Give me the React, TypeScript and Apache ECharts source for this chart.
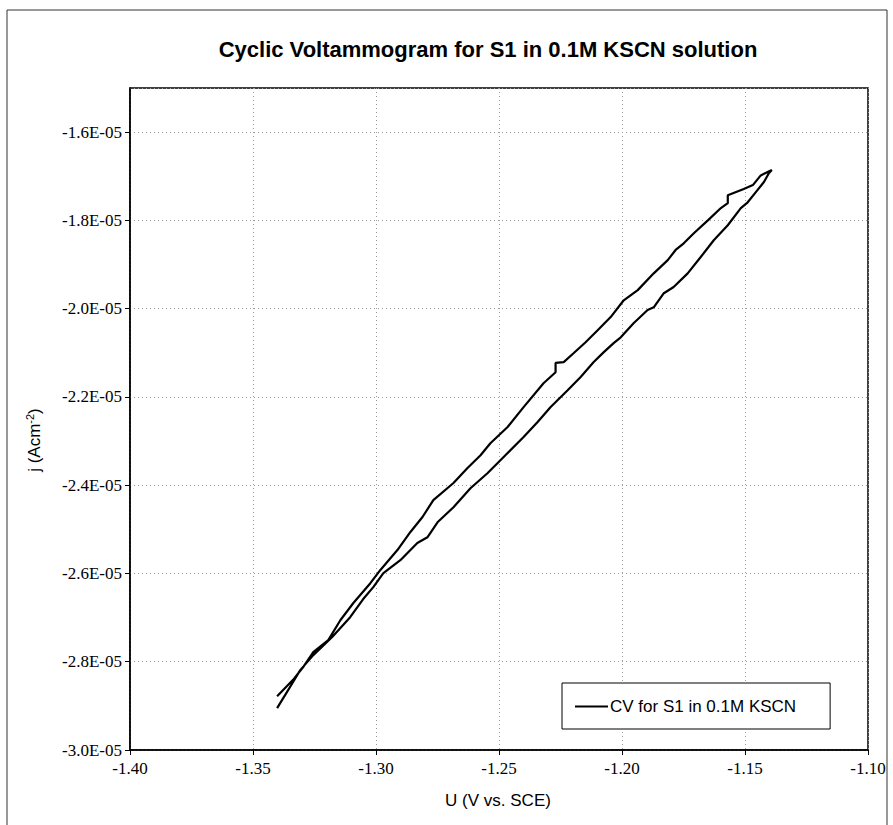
import React, { useEffect, useRef } from "react";
import * as echarts from "echarts";

// Potential U (V vs. SCE) and current density j (in units of 1E-05 A/cm^2)
const forwardU = [-1.3402, -1.3337, -1.3296, -1.3255, -1.3194, -1.3145, -1.3092, -1.3023, -1.2982, -1.2913, -1.286, -1.2811, -1.2767, -1.2685, -1.2628, -1.2575, -1.2535, -1.2465, -1.24, -1.2319, -1.227, -1.227, -1.2237, -1.2197, -1.2148, -1.2099, -1.2046, -1.1993, -1.1936, -1.1871, -1.1814, -1.1782, -1.1749, -1.1708, -1.1651, -1.1598, -1.157, -1.157, -1.1505, -1.1468, -1.1436, -1.1391];
const forwardJ = [-2.878, -2.841, -2.812, -2.778, -2.751, -2.706, -2.667, -2.622, -2.592, -2.547, -2.506, -2.472, -2.434, -2.395, -2.361, -2.332, -2.305, -2.268, -2.223, -2.169, -2.144, -2.123, -2.121, -2.101, -2.076, -2.049, -2.019, -1.981, -1.958, -1.92, -1.89, -1.867, -1.852, -1.829, -1.8, -1.772, -1.761, -1.743, -1.729, -1.72, -1.698, -1.686];
const reverseU = [-1.1403, -1.1423, -1.1456, -1.1489, -1.1517, -1.157, -1.1627, -1.168, -1.1733, -1.179, -1.183, -1.1871, -1.1896, -1.1953, -1.2005, -1.2034, -1.2075, -1.2115, -1.2168, -1.2221, -1.229, -1.2343, -1.24, -1.2474, -1.2547, -1.2616, -1.2685, -1.275, -1.2791, -1.2832, -1.2901, -1.297, -1.3011, -1.3052, -1.3105, -1.3178, -1.3255, -1.3308, -1.3337, -1.3369, -1.3402];
const reverseJ = [-1.693, -1.713, -1.736, -1.759, -1.772, -1.811, -1.845, -1.883, -1.92, -1.951, -1.965, -1.997, -2.003, -2.033, -2.065, -2.078, -2.099, -2.121, -2.155, -2.185, -2.223, -2.257, -2.291, -2.332, -2.373, -2.407, -2.45, -2.484, -2.518, -2.531, -2.57, -2.599, -2.631, -2.658, -2.699, -2.744, -2.785, -2.819, -2.846, -2.875, -2.905];

const seriesName = "CV for S1 in 0.1M KSCN";
const titleText = "Cyclic Voltammogram for S1 in 0.1M KSCN solution";
const xTitle = "U (V vs. SCE)";

const xMin = -1.4;
const xMax = -1.1;
const xStep = 0.05;
const yMin = -3.0;
const yMax = -1.5;
const yStep = 0.2;

export default function App() {
  const ref = useRef<HTMLDivElement>(null);

  useEffect(() => {
    if (!ref.current) return;
    const chart = echarts.init(ref.current, null, { renderer: "svg" });
    const data: number[][] = [];
    forwardU.forEach((u, i) => data.push([u, forwardJ[i]]));
    reverseU.forEach((u, i) => data.push([u, reverseJ[i]]));

    const serif = "Liberation Serif";
    const sans = "Liberation Sans";

    chart.setOption({
      animation: false,
      backgroundColor: "#fff",
      grid: {
        left: 130,
        right: 25,
        top: 88,
        bottom: 75,
        show: true,
        borderColor: "#000",
        borderWidth: 1.5,
        backgroundColor: "transparent",
      },
      title: {
        text: titleText,
        left: 483,
        top: 33,
        textAlign: "center",
        textStyle: { fontFamily: sans, fontSize: 22, fontWeight: "bold", color: "#000" },
      },
      legend: {
        show: true,
        left: 562,
        top: 683,
        orient: "horizontal",
        backgroundColor: "#fff",
        borderColor: "#000",
        borderWidth: 1,
        borderRadius: 0,
        padding: [15, 34, 14, 13],
        itemWidth: 33,
        itemHeight: 14,
        itemGap: 5,
        textStyle: { fontFamily: sans, fontSize: 17, color: "#000", padding: [0, 0, 0, -3] },
        data: [{ name: seriesName, icon: "path://M0,0 L33,0 L33,2 L0,2 Z" }],
        itemStyle: { color: "#000" },
      },
      xAxis: {
        type: "value",
        min: xMin,
        max: xMax,
        interval: xStep,
        axisLine: { show: true, onZero: false, lineStyle: { color: "#000", width: 1.5 } },
        axisTick: { show: true, inside: false, length: 5, lineStyle: { color: "#000", width: 1 } },
        axisLabel: {
          fontFamily: serif,
          fontSize: 17,
          color: "#000",
          margin: 10,
          formatter: (v: number) => v.toFixed(2),
        },
        splitLine: { show: true, lineStyle: { color: "#9a9a9a", type: [1, 3], width: 1 } },
      },
      yAxis: {
        type: "value",
        min: yMin,
        max: yMax,
        interval: yStep,
        axisLine: { show: true, onZero: false, lineStyle: { color: "#000", width: 1.5 } },
        axisTick: { show: true, inside: false, length: 5, lineStyle: { color: "#000", width: 1 } },
        axisLabel: {
          fontFamily: serif,
          fontSize: 17,
          color: "#000",
          margin: 8,
          showMaxLabel: false,
          formatter: (v: number) => v.toFixed(1) + "E-05",
        },
        splitLine: { show: true, lineStyle: { color: "#9a9a9a", type: [1, 3], width: 1 } },
      },
      series: [
        {
          name: seriesName,
          type: "line",
          data,
          showSymbol: false,
          symbol: "none",
          smooth: false,
          lineStyle: { color: "#000", width: 2.2 },
          itemStyle: { color: "#000" },
        },
      ],
      graphic: [
        {
          type: "rect",
          shape: { x: 7, y: 10, width: 880, height: 840 },
          style: { fill: "none", stroke: "#333", lineWidth: 1 },
          silent: true,
          z: -10,
        },
        {
          type: "text",
          x: 34,
          y: 440,
          rotation: Math.PI / 2,
          style: {
            text: "{a|j (Acm}{s|-2}{a|)}",
            align: "center",
            verticalAlign: "middle",
            rich: {
              a: { fontFamily: sans, fontSize: 17, fill: "#000" },
              s: { fontFamily: sans, fontSize: 11, fill: "#000", padding: [0, 0, 9, 0] },
            },
          },
        },
        {
          type: "text",
          x: 498,
          y: 800,
          style: {
            text: xTitle,
            align: "center",
            verticalAlign: "middle",
            fontFamily: sans,
            fontSize: 17,
            fill: "#000",
          },
        },
      ],
    });
    return () => chart.dispose();
  }, []);

  return (
    <div
      ref={ref}
      style={{ position: "fixed", left: 0, top: 0, width: 893, height: 825, background: "#fff" }}
    />
  );
}
